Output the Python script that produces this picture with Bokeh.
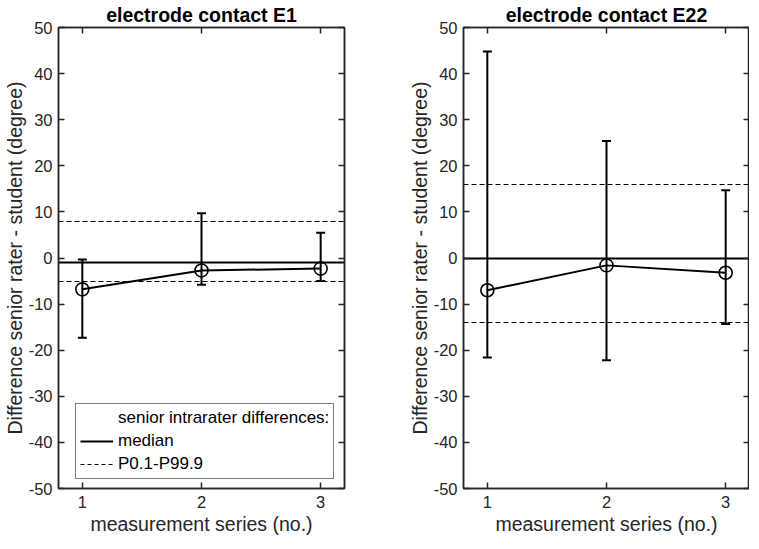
from bokeh.plotting import figure
from bokeh.layouts import row
from bokeh.models import Range1d, FixedTicker, LinearAxis, Legend, LegendItem, PrintfTickFormatter
from bokeh.embed import file_html
from bokeh.resources import INLINE

# ---- data ----
series = [1, 2, 3]
x_ticks = [1, 2, 3]
y_ticks = [-50, -40, -30, -20, -10, 0, 10, 20, 30, 40, 50]

e1_values = [-6.8, -2.7, -2.3]
e1_lower = [-17.3, -5.8, -5.0]
e1_upper = [-0.3, 9.7, 5.5]
e1_ref_median = -1.0
e1_ref_p01 = -5.0
e1_ref_p999 = 8.0

e22_values = [-7.0, -1.6, -3.2]
e22_lower = [-21.6, -22.2, -14.3]
e22_upper = [44.8, 25.4, 14.7]
e22_ref_median = 0.0
e22_ref_p01 = -14.0
e22_ref_p999 = 16.0

titles = ["electrode contact E1", "electrode contact E22"]
y_label = "Difference senior rater - student (degree)"
x_label = "measurement series (no.)"
legend_labels = ["senior intrarater differences:", "median", "P0.1-P99.9"]

FONT = "Liberation Sans"
AX = "#262626"
TICK_FS = "16.5px"
LAB_FS = "19.5px"
TITLE_FS = "19.5px"
LEG_FS = "17px"
NAN = float("nan")


def style_axis(ax, show_labels=True):
    ax.axis_line_color = AX
    ax.axis_line_width = 1.5
    ax.major_tick_line_color = AX
    ax.major_tick_line_width = 1.5
    ax.major_tick_in = 6
    ax.major_tick_out = 0
    ax.minor_tick_line_color = None
    ax.major_label_text_font = FONT
    ax.axis_label_text_font = FONT
    ax.axis_label_text_font_style = "normal"
    ax.axis_label_text_color = "#262626"
    ax.axis_label_text_font_size = LAB_FS
    ax.formatter = PrintfTickFormatter(format="%d")
    if show_labels:
        ax.major_label_text_font_size = TICK_FS
        ax.major_label_text_color = "#262626"
    else:
        ax.major_label_text_font_size = "1px"
        ax.major_label_text_color = None
        ax.major_label_standoff = 0


def make_plot(title, vals, lo, hi, med, p01, p999, mbl, mbr, with_legend):
    p = figure(frame_width=286, frame_height=461,
               x_range=Range1d(0.8, 3.2), y_range=Range1d(-50, 50),
               output_backend="svg", toolbar_location=None,
               min_border_left=mbl, min_border_right=mbr,
               min_border_top=26, min_border_bottom=46)
    p.grid.grid_line_color = None
    p.outline_line_color = AX
    p.outline_line_width = 1.5
    p.background_fill_color = "white"
    p.border_fill_color = "white"

    p.title.text = title
    p.title.align = "center"
    p.title.text_font = FONT
    p.title.text_font_size = TITLE_FS
    p.title.text_font_style = "bold"
    p.title.text_color = "black"
    p.title.standoff = 3

    p.xaxis.ticker = FixedTicker(ticks=x_ticks)
    p.yaxis.ticker = FixedTicker(ticks=y_ticks)
    p.xaxis.axis_label = x_label
    p.yaxis.axis_label = y_label
    style_axis(p.xaxis[0])
    style_axis(p.yaxis[0])
    p.xaxis.major_label_standoff = 7
    p.yaxis.major_label_standoff = 6
    p.yaxis.axis_label_standoff = 0
    p.xaxis.axis_label_standoff = 2

    top = LinearAxis(ticker=FixedTicker(ticks=x_ticks))
    style_axis(top, False)
    p.add_layout(top, "above")
    right = LinearAxis(ticker=FixedTicker(ticks=y_ticks))
    style_axis(right, False)
    p.add_layout(right, "right")

    # reference lines
    p.hspan(y=[med], line_color="black", line_width=2)
    p.hspan(y=[p01, p999], line_color="black", line_width=1, line_dash="5 3")

    # error bars
    p.segment(x0=series, x1=series, y0=lo, y1=hi, line_color="black", line_width=2)
    p.scatter(x=series, y=lo, marker="dash", size=9, line_color="black", line_width=2)
    p.scatter(x=series, y=hi, marker="dash", size=9, line_color="black", line_width=2)
    p.line(x=series, y=vals, line_color="black", line_width=2)
    p.scatter(x=series, y=vals, marker="circle", size=13, fill_color=None,
              line_color="black", line_width=1.6)

    if with_legend:
        r0 = p.line(x=[NAN, NAN], y=[NAN, NAN], line_alpha=0)
        r1 = p.line(x=[NAN, NAN], y=[NAN, NAN], line_color="black", line_width=2)
        r2 = p.line(x=[NAN, NAN], y=[NAN, NAN], line_color="black", line_width=1,
                    line_dash="4 3")
        leg = Legend(items=[LegendItem(label=legend_labels[0], renderers=[r0]),
                            LegendItem(label=legend_labels[1], renderers=[r1]),
                            LegendItem(label=legend_labels[2], renderers=[r2])],
                     location=(17, 9))
        leg.border_line_color = "black"
        leg.border_line_width = 1.5
        leg.background_fill_color = "white"
        leg.background_fill_alpha = 1
        leg.label_text_font = FONT
        leg.label_text_font_size = LEG_FS
        leg.label_text_color = "black"
        leg.label_height = 20
        leg.glyph_height = 20
        leg.glyph_width = 33
        leg.spacing = 3
        leg.padding = 4
        leg.margin = 0
        leg.label_standoff = 5
        p.add_layout(leg, "center")
    return p


p1 = make_plot(titles[0], e1_values, e1_lower, e1_upper,
               e1_ref_median, e1_ref_p01, e1_ref_p999, 58, 14, True)
p2 = make_plot(titles[1], e22_values, e22_lower, e22_upper,
               e22_ref_median, e22_ref_p01, e22_ref_p999, 105, 0, False)

layout = row(p1, p2)
open("out.html", "w").write(file_html(layout, INLINE))
